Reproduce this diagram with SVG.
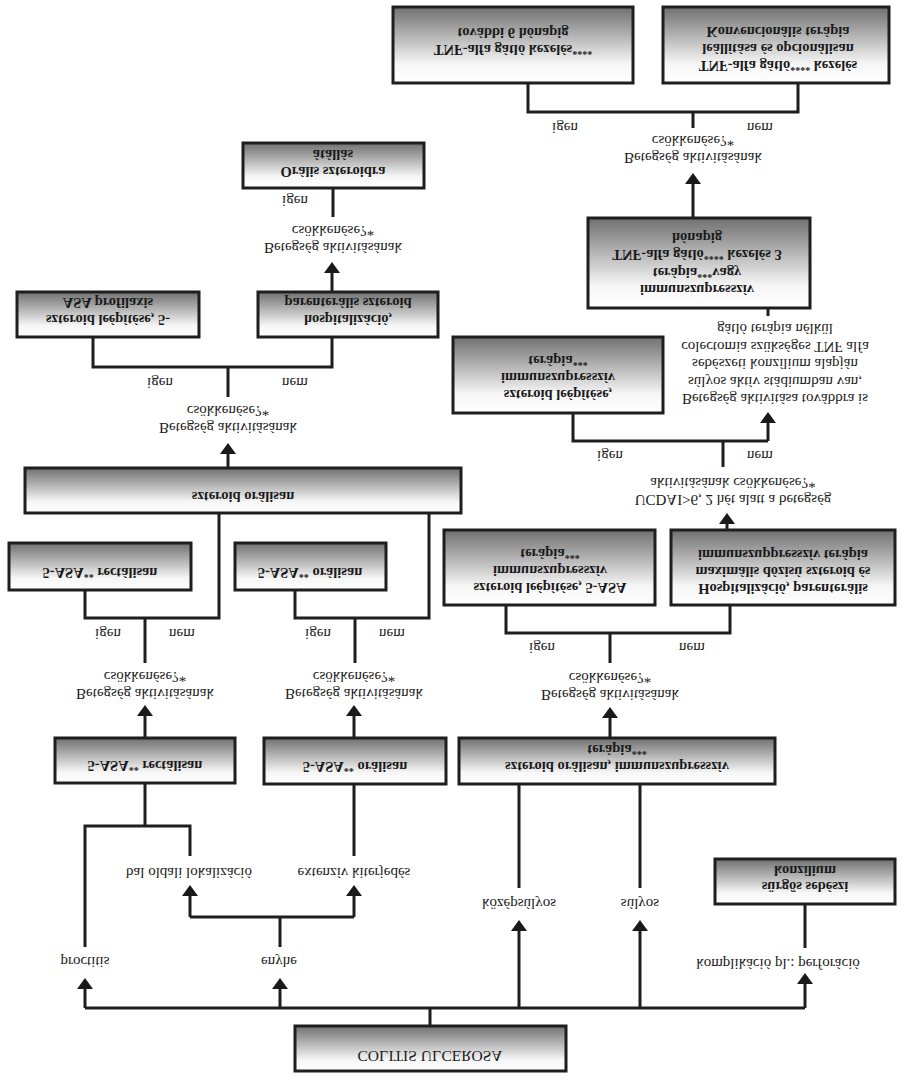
<svg xmlns="http://www.w3.org/2000/svg" width="907" height="1091" viewBox="0 0 907 1091">
<defs>
<linearGradient id="g" x1="0" y1="0" x2="0" y2="1">
<stop offset="0" stop-color="#707070"/>
<stop offset="0.75" stop-color="#f6f6f6"/>
<stop offset="1" stop-color="#ffffff"/>
</linearGradient>
<marker id="arr" viewBox="0 0 11 16" refX="8" refY="8" markerWidth="11" markerHeight="16" markerUnits="userSpaceOnUse" orient="auto">
<path d="M0,0 L11,8 L0,16 z" fill="#1a1a1a"/>
</marker>
<style>
rect{fill:url(#g);stroke:#1e1e1e;stroke-width:3}
text{font-family:"Liberation Serif","Times New Roman",serif;font-size:15px;fill:#1a1a1a;text-anchor:middle}
.b{font-weight:bold;font-size:14.5px}
.s{font-size:10px;baseline-shift:3px}
.c path{fill:none;stroke:#1e1e1e;stroke-width:3}
.c .a{marker-end:url(#arr)}
</style>
</defs>
<rect x="0" y="0" width="907" height="1091" style="fill:#fff;stroke:none"/>
<g class="c" id="connectors">
<path d="M430,1026V1008M85,1008H805"/>
<path class="a" d="M85,1008V981"/>
<path class="a" d="M280,1008V981"/>
<path class="a" d="M519,1008V923"/>
<path class="a" d="M640,1008V923"/>
<path class="a" d="M805,1008V976"/>
<path d="M280,947V917M190,917H354"/>
<path class="a" d="M190,917V888"/>
<path class="a" d="M354,917V888"/>
<path d="M85,947V826H190V856M145,826V783"/>
<path d="M354,856V784M519,888V784M640,888V784M805,948V904"/>
<path class="a" d="M145,738V708"/>
<path class="a" d="M354,738V708"/>
<path class="a" d="M610,738V710"/>
<path d="M145,663V618M85,590V618H219V513"/>
<path d="M355,663V618M295,590V618H429V513"/>
<path class="a" d="M228,468V446"/>
<path d="M228,397V367M93,337V367H332V337"/>
<path class="a" d="M332,292V265"/>
<path d="M333,217V188"/>
<path d="M610,663V633M506,605V633H730V605"/>
<path class="a" d="M727,530V516"/>
<path d="M723,467V441M573,413V441H768"/>
<path class="a" d="M768,441V415"/>
<path d="M768,316V308"/>
<path class="a" d="M693,218V176"/>
<path d="M693,128V112M528,83V112H798V83"/>
</g>
<g id="root">
<rect x="295" y="1026" width="271" height="45"/>
<text transform="matrix(1 0 0 -1 0 1051)" style="font-size:15.5px"><tspan x="430" y="0">COLITIS ULCEROSA</tspan></text>
</g>
<g id="labels-leaves">
<text transform="matrix(1 0 0 -1 0 957)"><tspan x="85" y="0">proctitis</tspan></text>
<text transform="matrix(1 0 0 -1 0 957)"><tspan x="279" y="0">enyhe</tspan></text>
<text transform="matrix(1 0 0 -1 0 899)"><tspan x="519" y="0">középsúlyos</tspan></text>
<text transform="matrix(1 0 0 -1 0 899)"><tspan x="640" y="0">súlyos</tspan></text>
<text transform="matrix(1 0 0 -1 0 959)"><tspan x="778" y="0">komplikáció pl.: perforáció</tspan></text>
<text transform="matrix(1 0 0 -1 0 868)"><tspan x="189" y="0">bal oldali lokalizáció</tspan></text>
<text transform="matrix(1 0 0 -1 0 868)"><tspan x="354" y="0">extenzív kiterjedés</tspan></text>
</g>
<g id="n-sebesz">
<rect x="715" y="859" width="180" height="45"/>
<text class="b" transform="matrix(1 0 0 -1 0 882)"><tspan x="805" y="0">sürgős sebészi</tspan><tspan x="805" y="16">konzílium</tspan></text>
</g>
<g id="n-5asa-rect1">
<rect x="55" y="738" width="180" height="45"/>
<text class="b" transform="matrix(1 0 0 -1 0 761)"><tspan x="145" y="0">5-ASA<tspan class="s">**</tspan> rectálisan</tspan></text>
</g>
<g id="n-5asa-or1">
<rect x="264" y="738" width="182" height="46"/>
<text class="b" transform="matrix(1 0 0 -1 0 762)"><tspan x="355" y="0">5-ASA<tspan class="s">**</tspan> orálisan</tspan></text>
</g>
<g id="n-szter-immun">
<rect x="459" y="738" width="316" height="46"/>
<text class="b" transform="matrix(1 0 0 -1 0 762)"><tspan x="617" y="0">szteroid orálisan, immunszupresszív</tspan><tspan x="617" y="17">terápia<tspan class="s">***</tspan></tspan></text>
</g>
<g id="d-left">
<text transform="matrix(1 0 0 -1 0 689)"><tspan x="145" y="0">Betegség aktivitásának</tspan><tspan x="145" y="17">csökkenése?*</tspan></text>
<text transform="matrix(1 0 0 -1 0 629)"><tspan x="108" y="0">igen</tspan></text>
<text transform="matrix(1 0 0 -1 0 629)"><tspan x="182" y="0">nem</tspan></text>
</g>
<g id="d-mid">
<text transform="matrix(1 0 0 -1 0 689)"><tspan x="354" y="0">Betegség aktivitásának</tspan><tspan x="354" y="17">csökkenése?*</tspan></text>
<text transform="matrix(1 0 0 -1 0 629)"><tspan x="318" y="0">igen</tspan></text>
<text transform="matrix(1 0 0 -1 0 629)"><tspan x="392" y="0">nem</tspan></text>
</g>
<g id="d-right">
<text transform="matrix(1 0 0 -1 0 690)"><tspan x="610" y="0">Betegség aktivitásának</tspan><tspan x="610" y="17">csökkenése?*</tspan></text>
<text transform="matrix(1 0 0 -1 0 643)"><tspan x="542" y="0">igen</tspan></text>
<text transform="matrix(1 0 0 -1 0 643)"><tspan x="692" y="0">nem</tspan></text>
</g>
<g id="n-5asa-rect2">
<rect x="9" y="543" width="182" height="47"/>
<text class="b" transform="matrix(1 0 0 -1 0 568)"><tspan x="100" y="0">5-ASA<tspan class="s">**</tspan> rectálisan</tspan></text>
</g>
<g id="n-5asa-or2">
<rect x="235" y="543" width="151" height="47"/>
<text class="b" transform="matrix(1 0 0 -1 0 568)"><tspan x="310" y="0">5-ASA<tspan class="s">**</tspan> orálisan</tspan></text>
</g>
<g id="n-leep-5asa">
<rect x="444" y="530" width="211" height="75"/>
<text class="b" transform="matrix(1 0 0 -1 0 583)"><tspan x="550" y="0">szteroid leépítése, 5-ASA</tspan><tspan x="550" y="17">immunszupresszív</tspan><tspan x="550" y="34">terápia<tspan class="s">***</tspan></tspan></text>
</g>
<g id="n-hosp-max">
<rect x="671" y="530" width="224" height="75"/>
<text class="b" transform="matrix(1 0 0 -1 0 584)"><tspan x="783" y="0">Hospitalizáció, parenterális</tspan><tspan x="783" y="17">maximális dózisú szteroid és</tspan><tspan x="783" y="34">immunszuppresszív terápia</tspan></text>
</g>
<g id="n-szter-or">
<rect x="25" y="468" width="436" height="45"/>
<text class="b" transform="matrix(1 0 0 -1 0 492)"><tspan x="243" y="0">szteroid orálisan</tspan></text>
</g>
<g id="d-ucdai">
<text transform="matrix(1 0 0 -1 0 495)"><tspan x="733" y="0">UCDAI&gt;6, 2 hét alatt a betegség</tspan><tspan x="733" y="17">aktivitásának csökkenése?*</tspan></text>
<text transform="matrix(1 0 0 -1 0 451)"><tspan x="610" y="0">igen</tspan></text>
<text transform="matrix(1 0 0 -1 0 451)"><tspan x="760" y="0">nem</tspan></text>
</g>
<g id="d-szter">
<text transform="matrix(1 0 0 -1 0 423)"><tspan x="228" y="0">Betegség aktivitásának</tspan><tspan x="228" y="17">csökkenése?*</tspan></text>
<text transform="matrix(1 0 0 -1 0 378)"><tspan x="160" y="0">igen</tspan></text>
<text transform="matrix(1 0 0 -1 0 378)"><tspan x="295" y="0">nem</tspan></text>
</g>
<g id="n-leep-immun">
<rect x="453" y="337" width="210" height="76"/>
<text class="b" transform="matrix(1 0 0 -1 0 390)"><tspan x="558" y="0">szteroid leépítése,</tspan><tspan x="558" y="17">immunszupresszív</tspan><tspan x="558" y="34">terápia<tspan class="s">***</tspan></tspan></text>
</g>
<g id="t-colectomia">
<text transform="matrix(1 0 0 -1 0 394)"><tspan x="775" y="0">Betegség aktivitása továbbra is</tspan><tspan x="775" y="17.4">súlyos aktív stádiumban van,</tspan><tspan x="775" y="34.8">sebészeti konzílium alapján</tspan><tspan x="775" y="52.2">colectomia szükséges TNF alfa</tspan><tspan x="775" y="69.6">gátló terápia nélkül</tspan></text>
</g>
<g id="n-leep-profil">
<rect x="17" y="292" width="182" height="45"/>
<text class="b" transform="matrix(1 0 0 -1 0 315)"><tspan x="108" y="0">szteroid leépítése, 5-</tspan><tspan x="108" y="17">ASA profilaxis</tspan></text>
</g>
<g id="n-hosp-par">
<rect x="258" y="292" width="180" height="45"/>
<text class="b" transform="matrix(1 0 0 -1 0 315)"><tspan x="348" y="0">hospitalizáció,</tspan><tspan x="348" y="17">parenterális szteroid</tspan></text>
</g>
<g id="n-tnf3">
<rect x="588" y="218" width="222" height="90"/>
<text class="b" transform="matrix(1 0 0 -1 0 285)"><tspan x="697" y="0">immunszupresszív</tspan><tspan x="697" y="17.3">terápia<tspan class="s">***</tspan>vagy</tspan><tspan x="697" y="34.6">TNF-alfa gátló<tspan class="s">****</tspan> kezelés 3</tspan><tspan x="697" y="51.9">hónapig</tspan></text>
</g>
<g id="d-parent">
<text transform="matrix(1 0 0 -1 0 243)"><tspan x="333" y="0">Betegség aktivitásának</tspan><tspan x="333" y="17">csökkenése?*</tspan></text>
<text transform="matrix(1 0 0 -1 0 196)"><tspan x="295" y="0">igen</tspan></text>
</g>
<g id="n-oralis">
<rect x="243" y="143" width="181" height="45"/>
<text class="b" transform="matrix(1 0 0 -1 0 167)"><tspan x="333" y="0">Orális szteroidra</tspan><tspan x="333" y="17">átállás</tspan></text>
</g>
<g id="d-tnf">
<text transform="matrix(1 0 0 -1 0 153)"><tspan x="693" y="0">Betegség aktivitásának</tspan><tspan x="693" y="17">csökkenése?*</tspan></text>
<text transform="matrix(1 0 0 -1 0 123)"><tspan x="565" y="0">igen</tspan></text>
<text transform="matrix(1 0 0 -1 0 123)"><tspan x="760" y="0">nem</tspan></text>
</g>
<g id="n-tnf6">
<rect x="393" y="7" width="240" height="76"/>
<text class="b" transform="matrix(1 0 0 -1 0 45)"><tspan x="513" y="0">TNF-alfa gátló kezelés<tspan class="s">****</tspan></tspan><tspan x="513" y="17">további 6 hónapig</tspan></text>
</g>
<g id="n-konv">
<rect x="663" y="7" width="226" height="76"/>
<text class="b" transform="matrix(1 0 0 -1 0 61)"><tspan x="778" y="0">TNF-alfa gátló<tspan class="s">****</tspan> kezelés</tspan><tspan x="778" y="17">leállítása és opcionálisan</tspan><tspan x="778" y="34">Konvencionális terápia</tspan></text>
</g>
</svg>
